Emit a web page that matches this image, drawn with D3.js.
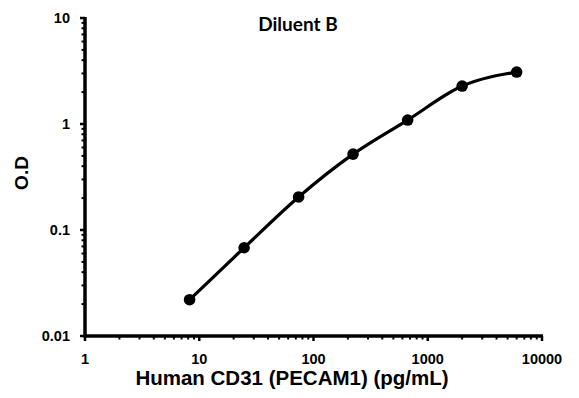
<!DOCTYPE html>
<html>
<head>
<meta charset="utf-8">
<script src="https://cdn.jsdelivr.net/npm/d3@7"></script>
<style>
  body { margin: 0; background: #fff; }
  svg { display: block; }
  .tick-label { font-family: "Liberation Sans", Arial, sans-serif; font-weight: bold; font-size: 14.5px; fill: #000; }
  .axis-title { font-family: "Liberation Sans", Arial, sans-serif; font-weight: bold; font-size: 20.5px; fill: #000; }
  .chart-title { font-family: Lato, "Open Sans", sans-serif; font-weight: bold; font-size: 19px; fill: #000; }
</style>
</head>
<body>
<div id="chart"></div>
<script>
// Standard curve values
const concentrations = [8.23, 24.7, 74.1, 222, 667, 2000, 6000];
const odValues = [0.022, 0.068, 0.205, 0.52, 1.09, 2.28, 3.09];

const xTickValues = [1, 10, 100, 1000, 10000];
const xTickLabels = ['1', '10', '100', '1000', '10000'];
const yTickValues = [0.01, 0.1, 1, 10];
const yTickLabels = ['0.01', '0.1', '1', '10'];

const width = 579;
const height = 398;
const margin = { top: 18, right: 37, bottom: 62, left: 85 };

const svg = d3.select('#chart')
    .append('svg')
    .attr('width', width)
    .attr('height', height);

const x = d3.scaleLog()
    .domain([1, 10000])
    .range([margin.left, width - margin.right]);

const y = d3.scaleLog()
    .domain([0.01, 10])
    .range([height - margin.bottom, margin.top]);

// Minor ticks (2..9 within each decade)
const minorX = [];
for (let d = 1; d < 10000; d *= 10) {
    for (let k = 2; k <= 9; k++) minorX.push(d * k);
}
const minorY = [];
for (let d = 0.01; d < 9; d *= 10) {
    for (let k = 2; k <= 9; k++) minorY.push(d * k);
}

const axisY0 = height - margin.bottom;

// X axis ticks
svg.append('g')
    .selectAll('line.minor-x')
    .data(minorX)
    .join('line')
    .attr('x1', d => x(d)).attr('x2', d => x(d))
    .attr('y1', axisY0).attr('y2', axisY0 + 3.5)
    .attr('stroke', '#000').attr('stroke-width', 2);

svg.append('g')
    .selectAll('line.major-x')
    .data(xTickValues)
    .join('line')
    .attr('x1', d => x(d)).attr('x2', d => x(d))
    .attr('y1', axisY0).attr('y2', axisY0 + 5)
    .attr('stroke', '#000').attr('stroke-width', 2.5);

// Y axis ticks
svg.append('g')
    .selectAll('line.minor-y')
    .data(minorY)
    .join('line')
    .attr('x1', margin.left - 3.5).attr('x2', margin.left)
    .attr('y1', d => y(d)).attr('y2', d => y(d))
    .attr('stroke', '#000').attr('stroke-width', 2);

svg.append('g')
    .selectAll('line.major-y')
    .data(yTickValues)
    .join('line')
    .attr('x1', margin.left - 5).attr('x2', margin.left)
    .attr('y1', d => y(d)).attr('y2', d => y(d))
    .attr('stroke', '#000').attr('stroke-width', 2.5);

// Axis lines
svg.append('line')
    .attr('x1', margin.left).attr('x2', margin.left)
    .attr('y1', margin.top - 1).attr('y2', axisY0 + 1.5)
    .attr('stroke', '#000').attr('stroke-width', 3.5);

svg.append('line')
    .attr('x1', margin.left - 1.5).attr('x2', width - margin.right + 1)
    .attr('y1', axisY0).attr('y2', axisY0)
    .attr('stroke', '#000').attr('stroke-width', 3.5);

// Tick labels
svg.append('g')
    .selectAll('text')
    .data(xTickValues)
    .join('text')
    .attr('class', 'tick-label')
    .attr('x', d => x(d))
    .attr('y', axisY0 + 28)
    .attr('text-anchor', 'middle')
    .text((d, i) => xTickLabels[i]);

svg.append('g')
    .selectAll('text')
    .data(yTickValues)
    .join('text')
    .attr('class', 'tick-label')
    .attr('x', margin.left - 15)
    .attr('y', d => y(d) + 5)
    .attr('text-anchor', 'end')
    .text((d, i) => yTickLabels[i]);

// Titles
svg.append('text')
    .attr('class', 'chart-title')
    .attr('x', 298)
    .attr('y', 31)
    .attr('text-anchor', 'middle')
    .text('Diluent B');

svg.append('text')
    .attr('class', 'axis-title')
    .attr('x', 292)
    .attr('y', 385)
    .attr('text-anchor', 'middle')
    .text('Human CD31  (PECAM1) (pg/mL)');

svg.append('text')
    .attr('class', 'axis-title')
    .attr('transform', `translate(28, 173) rotate(-90)`)
    .attr('text-anchor', 'middle')
    .style('font-size', '19px')
    .text('O.D');

// Curve
const points = concentrations.map((c, i) => [c, odValues[i]]);

const line = d3.line()
    .x(d => x(d[0]))
    .y(d => y(d[1]))
    .curve(d3.curveMonotoneX);

svg.append('path')
    .datum(points)
    .attr('d', line)
    .attr('fill', 'none')
    .attr('stroke', '#000')
    .attr('stroke-width', 3.2)
    .attr('stroke-linejoin', 'round');

svg.append('g')
    .selectAll('circle')
    .data(points)
    .join('circle')
    .attr('cx', d => x(d[0]))
    .attr('cy', d => y(d[1]))
    .attr('r', 5.8)
    .attr('fill', '#000');
</script>
</body>
</html>
